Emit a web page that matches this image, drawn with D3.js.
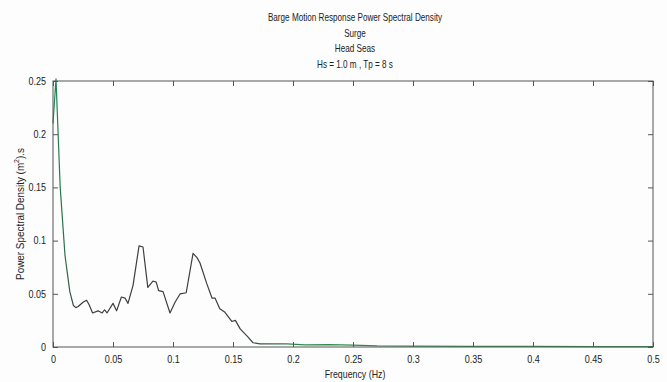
<!DOCTYPE html>
<html>
<head>
<meta charset="utf-8">
<script src="https://cdn.jsdelivr.net/npm/d3@7/dist/d3.min.js"></script>
<style>
  body { margin: 0; background: #fdfdfd; }
  svg { display: block; }
  text { font-family: "Liberation Sans", Arial, sans-serif; fill: #222; }
</style>
</head>
<body>
<svg></svg>
<script>
'use strict';

var titleLines = ['Barge Motion Response Power Spectral Density', 'Surge', 'Head Seas', 'Hs = 1.0 m , Tp = 8 s'];
var xLabel = 'Frequency (Hz)';
var xTicks = [0, 0.05, 0.1, 0.15, 0.2, 0.25, 0.3, 0.35, 0.4, 0.45, 0.5];
var yTicks = [0, 0.05, 0.1, 0.15, 0.2, 0.25];

// spectrum
var freq = [0, 0.0025, 0.006, 0.010, 0.014, 0.017, 0.019, 0.021, 0.025, 0.028, 0.030, 0.033, 0.0375, 0.041,
    0.043, 0.045, 0.050, 0.053, 0.057, 0.060, 0.0625, 0.0667, 0.0717, 0.075, 0.079, 0.0833, 0.086, 0.088,
    0.0917, 0.0975, 0.1017, 0.106, 0.111, 0.1167, 0.12, 0.1225, 0.128, 0.1325, 0.135, 0.139, 0.143, 0.149,
    0.152, 0.156, 0.162, 0.1667, 0.1725, 0.195, 0.21, 0.23, 0.25, 0.27, 0.3, 0.35, 0.4, 0.45, 0.5];
var psd = [0.21, 0.252, 0.15, 0.086, 0.052, 0.039, 0.037, 0.038, 0.042, 0.044, 0.040, 0.032, 0.034, 0.032,
    0.035, 0.032, 0.041, 0.034, 0.047, 0.046, 0.041, 0.058, 0.095, 0.094, 0.056, 0.062, 0.061, 0.053,
    0.052, 0.032, 0.042, 0.050, 0.051, 0.088, 0.084, 0.079, 0.060, 0.046, 0.046, 0.036, 0.033, 0.024,
    0.025, 0.017, 0.010, 0.004, 0.003, 0.003, 0.002, 0.0022, 0.0018, 0.001, 0.0008, 0.0006, 0.0005, 0.0004, 0.0003];

var w = 667, h = 382;
var m = { left: 53, right: 14, top: 81, bottom: 35 };

var svg = d3.select('svg').attr('width', w).attr('height', h);

var x = d3.scaleLinear().domain([0, 0.5]).range([m.left, w - m.right]);
var y = d3.scaleLinear().domain([0, 0.25]).range([h - m.bottom, m.top]);

var fmt = function (d) { return d === 0 ? '0' : String(+d.toFixed(2)); };

// squeeze text horizontally to mimic the narrow plot font
function condense(sel, k) {
    sel.each(function () {
        var len = this.getComputedTextLength();
        d3.select(this).attr('textLength', len * k).attr('lengthAdjust', 'spacingAndGlyphs');
    });
}

// title
svg.selectAll('.title').data(titleLines).enter().append('text')
    .attr('x', 355).attr('y', function (d, i) { return 21 + i * 15.5; })
    .attr('text-anchor', 'middle').attr('font-size', 11)
    .text(function (d) { return d; })
    .call(condense, 0.74);

// line colour: green at the ends, dark in the jagged middle
var grad = svg.append('defs').append('linearGradient').attr('id', 'lineCol')
    .attr('gradientUnits', 'userSpaceOnUse')
    .attr('x1', x(0)).attr('x2', x(0.5)).attr('y1', 0).attr('y2', 0);
[[0, '#1f8a55'], [0.022, '#2f6a4a'], [0.04, '#3b3f3d'], [0.32, '#3b3f3d'], [0.4, '#2f8a4c'], [1, '#2f8f4f']]
    .forEach(function (s) { grad.append('stop').attr('offset', s[0]).attr('stop-color', s[1]); });

var pts = freq.map(function (f, i) { return [f, psd[i]]; });
var line = d3.line().x(function (d) { return x(d[0]); }).y(function (d) { return y(d[1]); });

svg.append('path').datum(pts).attr('d', line)
    .attr('fill', 'none').attr('stroke', 'url(#lineCol)').attr('stroke-width', 1.2)
    .attr('stroke-linejoin', 'round');

// axes box with inward ticks
var axisCol = '#555';
function styleAxis(g, showText) {
    g.select('.domain').remove();
    g.selectAll('.tick line').attr('stroke', axisCol);
    g.selectAll('.tick text').attr('font-size', 10.5)
        .attr('font-family', '"Liberation Sans", Arial, sans-serif').attr('fill', '#222');
    if (!showText) g.selectAll('.tick text').remove();
    else g.selectAll('.tick text').call(condense, 0.86);
}

svg.append('g').attr('transform', 'translate(0,' + y(0) + ')')
    .call(d3.axisBottom(x).tickValues(xTicks).tickFormat(fmt).tickSizeInner(-5).tickPadding(9))
    .call(styleAxis, true);
svg.append('g').attr('transform', 'translate(0,' + y(0.25) + ')')
    .call(d3.axisTop(x).tickValues(xTicks).tickSizeInner(-5))
    .call(styleAxis, false);
svg.append('g').attr('transform', 'translate(' + x(0) + ',0)')
    .call(d3.axisLeft(y).tickValues(yTicks).tickFormat(fmt).tickSizeInner(-5).tickPadding(7))
    .call(styleAxis, true);
svg.append('g').attr('transform', 'translate(' + x(0.5) + ',0)')
    .call(d3.axisRight(y).tickValues(yTicks).tickSizeInner(-5))
    .call(styleAxis, false);

svg.append('rect')
    .attr('x', x(0)).attr('y', y(0.25))
    .attr('width', x(0.5) - x(0)).attr('height', y(0) - y(0.25))
    .attr('fill', 'none').attr('stroke', axisCol).attr('stroke-width', 1);

// axis labels
svg.append('text').attr('x', 355).attr('y', 378)
    .attr('text-anchor', 'middle').attr('font-size', 11).text(xLabel)
    .call(condense, 0.8);

var yl = svg.append('text')
    .attr('transform', 'translate(24,' + ((y(0) + y(0.25)) / 2) + ') rotate(-90)')
    .attr('text-anchor', 'middle').attr('font-size', 11.5);
yl.append('tspan').text('Power Spectral Density (m');
yl.append('tspan').attr('font-size', 8).attr('dy', -5).text('2');
yl.append('tspan').attr('dy', 5).text(').s');
yl.call(condense, 0.86);
</script>
</body>
</html>
